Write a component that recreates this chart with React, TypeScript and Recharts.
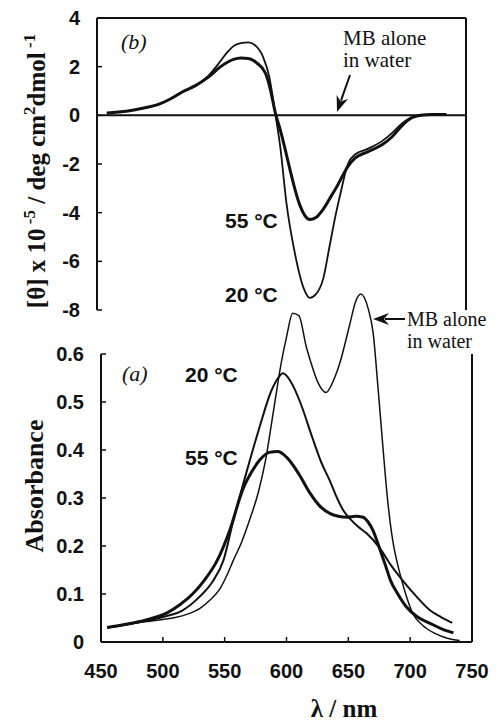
import React from 'react';
import { LineChart, Line, XAxis, YAxis, ReferenceLine } from 'recharts';

const INK = '#111';
const SANS = '"Liberation Sans", Arial, sans-serif';
const SERIF = '"Liberation Serif", "Times New Roman", serif';

// (b) CD spectra, [θ] x 10^-5
const cd20Nm = [458, 470, 480, 490, 500, 510, 520, 530, 540, 550, 556, 562, 568, 573, 578, 585, 590, 595, 599, 604, 611, 618, 623, 628, 634, 639, 644, 648, 654, 660, 670, 682, 690, 698, 706, 713, 722, 734];
const cd20 = [0.1, 0.15, 0.22, 0.32, 0.45, 0.68, 0.98, 1.22, 1.6, 2.2, 2.6, 2.88, 2.98, 3.0, 2.9, 2.4, 1.6, 0.05, -1.3, -3.6, -5.7, -7.1, -7.5, -7.35, -6.7, -5.4, -4.1, -3.2, -2.0, -1.6, -1.38, -1.05, -0.72, -0.33, -0.07, 0, 0.03, 0.03];
const cd55Nm = [458, 470, 480, 490, 500, 510, 520, 530, 540, 550, 556, 561, 567, 573, 580, 587, 591, 595, 599, 603, 607, 611, 615, 619, 623, 628, 634, 640, 645, 650, 654, 660, 670, 682, 690, 698, 706, 713, 722, 734];
const cd55 = [0.1, 0.15, 0.22, 0.32, 0.45, 0.68, 0.98, 1.22, 1.55, 1.98, 2.18, 2.3, 2.36, 2.34, 2.15, 1.73, 1.05, 0.1, -0.6, -1.4, -2.25, -3.05, -3.7, -4.12, -4.28, -4.2, -3.85, -3.35, -2.93, -2.45, -2.1, -1.75, -1.5, -1.2, -0.88, -0.42, -0.1, 0, 0.03, 0.03];

// (a) absorbance
const absMbNm = [455, 470, 485, 500, 510, 520, 530, 538, 546, 552, 557, 564, 570, 577, 583, 590, 596, 600, 605, 610, 616, 620, 625, 632, 638, 643, 651, 656, 660, 666, 670, 674, 678, 682, 686, 690, 693, 697, 702, 710, 720, 730, 740];
const absMb = [0.03, 0.036, 0.042, 0.047, 0.051, 0.058, 0.07, 0.087, 0.11, 0.14, 0.17, 0.21, 0.253, 0.31, 0.378, 0.49, 0.585, 0.635, 0.685, 0.68, 0.615, 0.58, 0.543, 0.52, 0.545, 0.58, 0.66, 0.71, 0.725, 0.695, 0.645, 0.53, 0.405, 0.29, 0.21, 0.16, 0.13, 0.095, 0.06, 0.035, 0.018, 0.008, 0.003];
const abs20Nm = [455, 470, 485, 500, 516, 530, 540, 549, 557, 568, 578, 588, 594, 597, 601, 606, 611, 621, 628, 635, 640, 646, 652, 658, 665, 675, 685, 694, 705, 716, 725, 734];
const abs20 = [0.03, 0.036, 0.043, 0.052, 0.066, 0.095, 0.125, 0.17, 0.253, 0.357, 0.446, 0.525, 0.553, 0.56, 0.552, 0.53, 0.5, 0.425, 0.375, 0.336, 0.305, 0.274, 0.255, 0.24, 0.226, 0.197, 0.158, 0.128, 0.095, 0.066, 0.052, 0.04];
const abs55Nm = [455, 470, 485, 503, 514, 524, 534, 544, 554, 565, 572, 578, 586, 593, 600, 610, 619, 627, 635, 642, 649, 656, 662, 666, 670, 675, 680, 684, 690, 697, 706, 716, 725, 735];
const abs55 = [0.03, 0.037, 0.045, 0.06, 0.078, 0.1, 0.13, 0.17, 0.232, 0.32, 0.355, 0.378, 0.395, 0.397, 0.385, 0.35, 0.31, 0.283, 0.268, 0.262, 0.26, 0.262, 0.26, 0.25, 0.232, 0.197, 0.16, 0.129, 0.1, 0.073, 0.052, 0.039, 0.028, 0.019];

const cdTicks = [-8, -6, -4, -2, 0, 2, 4];
const absTicks = [0, 0.1, 0.2, 0.3, 0.4, 0.5, 0.6];
const nmTicks = [450, 500, 550, 600, 650, 700, 750];

const zip = (xs: number[], ys: number[]) => xs.map((nm, i) => ({ nm, v: ys[i] }));

const Y_GAP = 17;
const YTick = (p: any) => {
  const ax = p.x + Y_GAP;
  return (
    <g>
      <line x1={ax} x2={ax + 5} y1={p.y} y2={p.y} stroke={INK} strokeWidth={1.5} />
      <text x={p.x} y={p.y} dy={7} textAnchor="end" fontFamily={SANS} fontWeight="bold" fontSize={20} fill={INK}>
        {p.payload.value}
      </text>
    </g>
  );
};

const X_GAP = 36;
const XTick = (p: any) => {
  const ay = p.y - X_GAP;
  return (
    <g>
      <line x1={p.x} x2={p.x} y1={ay} y2={ay - 5} stroke={INK} strokeWidth={1.5} />
      <text x={p.x} y={p.y} textAnchor="middle" fontFamily={SANS} fontWeight="bold" fontSize={20} fill={INK}>
        {p.payload.value}
      </text>
    </g>
  );
};

const Arrow = ({ x1, y1, x2, y2 }: { x1: number; y1: number; x2: number; y2: number }) => {
  const dx = x2 - x1, dy = y2 - y1;
  const len = Math.hypot(dx, dy);
  const ux = dx / len, uy = dy / len;
  const hl = 16, hw = 6;
  const bx = x2 - ux * hl, by = y2 - uy * hl;
  return (
    <g>
      <line x1={x1} y1={y1} x2={bx + ux * 4} y2={by + uy * 4} stroke={INK} strokeWidth={2} />
      <polygon points={`${x2},${y2} ${bx - uy * hw},${by + ux * hw} ${bx + ux * 5},${by + uy * 5} ${bx + uy * hw},${by - ux * hw}`} fill={INK} />
    </g>
  );
};

function Annotations() {
  const serif = { fontFamily: SERIF, fill: INK };
  const bold = { fontFamily: SANS, fontWeight: 'bold' as const, fontSize: 21, fill: INK };
  return (
    <svg width={496} height={722} style={{ position: 'absolute', left: 0, top: 0, pointerEvents: 'none' }}>
      <text x={121} y={49} {...serif} fontStyle="italic" fontSize={22}>(b)</text>
      <text x={343} y={45} {...serif} fontSize={21}>MB alone</text>
      <text x={343} y={67} {...serif} fontSize={21}>in water</text>
      <Arrow x1={350} y1={75} x2={337} y2={112} />
      <text x={225} y={228} {...bold}>55 °C</text>
      <text x={225} y={302} {...bold}>20 °C</text>

      <Arrow x1={405} y1={319} x2={373} y2={319} />
      <text x={407} y={326} {...serif} fontSize={20}>MB alone</text>
      <text x={407} y={348} {...serif} fontSize={20}>in water</text>
      <text x={122} y={381} {...serif} fontStyle="italic" fontSize={22}>(a)</text>
      <text x={185} y={382} {...bold}>20 °C</text>
      <text x={185} y={465} {...bold}>55 °C</text>

      <text transform="translate(45,171) rotate(-90)" textAnchor="middle" {...serif} fontWeight="bold" fontSize={25}>
        [θ] x 10<tspan dy={-10} fontSize={17}> -5</tspan>
        <tspan dy={10}> / deg cm</tspan>
        <tspan dy={-10} fontSize={17}>2</tspan>
        <tspan dy={10}>dmol</tspan>
        <tspan dy={-10} fontSize={17}> -1</tspan>
      </text>
      <text transform="translate(43,486) rotate(-90)" textAnchor="middle" {...serif} fontWeight="bold" fontSize={26}>
        Absorbance
      </text>
      <text x={344} y={717} textAnchor="middle" {...serif} fontWeight="bold" fontSize={25}>λ / nm</text>
    </svg>
  );
}

export default function App() {
  return (
    <div style={{ position: 'absolute', left: 0, top: 0, width: 496, height: 722, background: '#fff' }}>
      <div style={{ position: 'absolute', left: 0, top: 0 }}>
        <LineChart width={496} height={330} margin={{ top: 18, right: 30, bottom: 20, left: 0 }}>
          <XAxis type="number" dataKey="nm" domain={[450, 750]} hide />
          <YAxis
            type="number"
            domain={[-8, 4]}
            ticks={cdTicks}
            interval={0}
            width={97}
            tickSize={0}
            tickMargin={Y_GAP}
            tick={YTick}
            axisLine={{ stroke: INK, strokeWidth: 2 }}
          />
          <ReferenceLine y={4} stroke={INK} strokeWidth={2} />
          <ReferenceLine x={750} stroke={INK} strokeWidth={2} />
          <ReferenceLine y={0} stroke={INK} strokeWidth={2} />
          <Line data={zip(cd20Nm, cd20)} dataKey="v" type="monotone" dot={false} stroke={INK} strokeWidth={1.8} isAnimationActive={false} />
          <Line data={zip(cd55Nm, cd55)} dataKey="v" type="monotone" dot={false} stroke={INK} strokeWidth={3} isAnimationActive={false} />
        </LineChart>
      </div>
      <div style={{ position: 'absolute', left: 0, top: 0 }}>
        <LineChart width={496} height={722} margin={{ top: 282, right: 24, bottom: 0, left: 0 }}>
          <XAxis
            type="number"
            dataKey="nm"
            domain={[450, 750]}
            ticks={nmTicks}
            interval={0}
            height={80}
            tickSize={0}
            tickMargin={X_GAP}
            tick={XTick}
            axisLine={{ stroke: INK, strokeWidth: 2 }}
          />
          <YAxis
            type="number"
            domain={[0, 0.75]}
            ticks={absTicks}
            interval={0}
            width={101}
            tickSize={0}
            tickMargin={Y_GAP}
            tick={YTick}
            axisLine={false}
          />
          <ReferenceLine segment={[{ x: 450, y: 0 }, { x: 450, y: 0.6 }]} stroke={INK} strokeWidth={2} />
          <ReferenceLine segment={[{ x: 750, y: 0 }, { x: 750, y: 0.6 }]} stroke={INK} strokeWidth={2} />
          <Line data={zip(absMbNm, absMb)} dataKey="v" type="monotone" dot={false} stroke={INK} strokeWidth={1.5} isAnimationActive={false} />
          <Line data={zip(abs20Nm, abs20)} dataKey="v" type="monotone" dot={false} stroke={INK} strokeWidth={2} isAnimationActive={false} />
          <Line data={zip(abs55Nm, abs55)} dataKey="v" type="monotone" dot={false} stroke={INK} strokeWidth={3} isAnimationActive={false} />
        </LineChart>
      </div>
      <Annotations />
    </div>
  );
}
